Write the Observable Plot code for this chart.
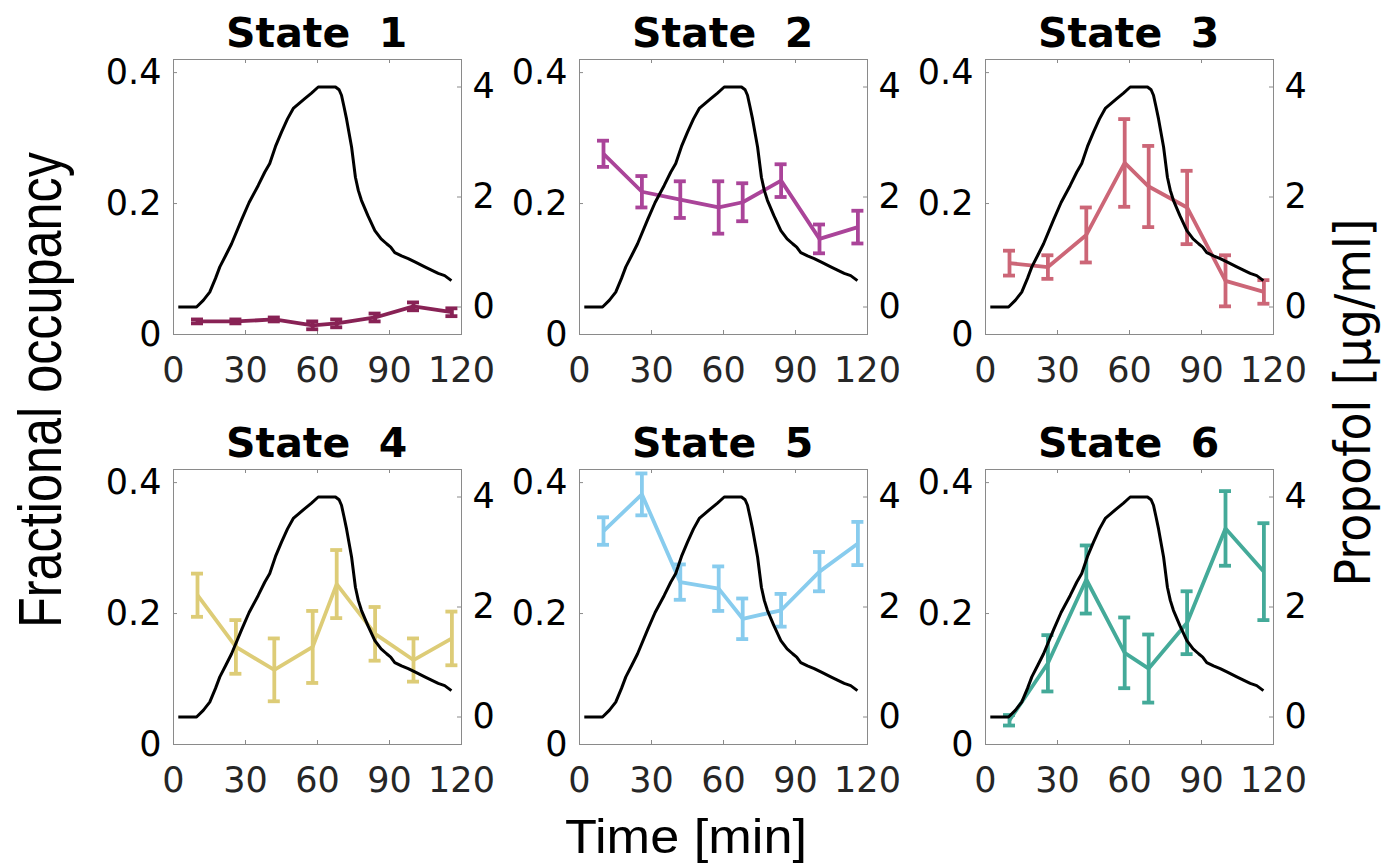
<!DOCTYPE html>
<html>
<head>
<meta charset="utf-8">
<script src="https://cdn.jsdelivr.net/npm/d3@7"></script>
<script src="https://cdn.jsdelivr.net/npm/@observablehq/plot@0.6"></script>
<style>
  body { margin: 0; background: #fff; }
  #fig { position: relative; width: 1393px; height: 863px; overflow: hidden; background: #fff; }
  #fig > svg, #fig > figure { position: absolute; margin: 0; }
</style>
</head>
<body>
<div id="fig"></div>
<script>
// Window centres (minutes) at which state occupancy was averaged
const times = [10, 26, 42, 58, 68, 84, 100, 116];

// Mean fractional occupancy per state and its standard error
const occ1 = [0.020, 0.020, 0.023, 0.014, 0.017, 0.026, 0.043, 0.034];
const err1 = [0.003, 0.003, 0.003, 0.006, 0.006, 0.006, 0.006, 0.006];
const occ2 = [0.276, 0.218, 0.206, 0.194, 0.202, 0.235, 0.146, 0.164];
const err2 = [0.020, 0.024, 0.028, 0.040, 0.029, 0.025, 0.022, 0.025];
const occ3 = [0.109, 0.103, 0.152, 0.262, 0.226, 0.194, 0.082, 0.065];
const err3 = [0.019, 0.018, 0.042, 0.067, 0.062, 0.056, 0.039, 0.018];
const occ4 = [0.228, 0.149, 0.114, 0.149, 0.245, 0.169, 0.129, 0.162];
const err4 = [0.033, 0.041, 0.048, 0.055, 0.052, 0.041, 0.033, 0.041];
const occ5 = [0.326, 0.382, 0.248, 0.238, 0.192, 0.205, 0.264, 0.307];
const err5 = [0.021, 0.032, 0.027, 0.034, 0.031, 0.025, 0.030, 0.033];
const occ6 = [0.037, 0.124, 0.252, 0.140, 0.116, 0.186, 0.330, 0.264];
const err6 = [0.008, 0.043, 0.052, 0.054, 0.052, 0.048, 0.057, 0.074];

// Propofol effect-site concentration [µg/ml] over the session
const propofolTime = [2, 9.6, 12.4, 15.1, 17.5, 19.3, 22, 24.2, 28.3, 31.5, 35.3, 38, 40.1, 42.5, 45, 47.5, 49.9, 52, 54.7, 57.5, 60.3, 67.5, 69, 70, 71, 72.1, 74.2, 75.8, 77, 78.3, 81, 83.9, 86.5, 88.8, 90.5, 92.2, 95, 97.8, 101, 104.7, 107.5, 110.3, 113, 115.8];
const propofolConc = [0, 0, 0.12, 0.27, 0.52, 0.73, 0.96, 1.15, 1.58, 1.9, 2.21, 2.45, 2.61, 2.92, 3.18, 3.42, 3.61, 3.69, 3.79, 3.89, 4.0, 4.0, 3.95, 3.85, 3.65, 3.42, 2.91, 2.36, 2.12, 1.94, 1.66, 1.39, 1.24, 1.15, 1.09, 0.99, 0.93, 0.88, 0.81, 0.73, 0.67, 0.61, 0.57, 0.48];

const stateNames = ["State  1", "State  2", "State  3", "State  4", "State  5", "State  6"];
const stateColors = ["#882255", "#AA4499", "#CC6677", "#DDCC77", "#88CCEE", "#44AA99"];
const occSeries = [occ1, occ2, occ3, occ4, occ5, occ6];
const errSeries = [err1, err2, err3, err4, err5, err6];

const xTicks = [0, 30, 60, 90, 120];
const occTicks = [0, 0.2, 0.4];
const propTicks = [0, 2, 4];

// Layout of the 2 x 3 grid of axes
const frameW = 288, frameH = 275;
const gridLeft = 172.7, gridTop = 59.3, stepX = 406, stepY = 410;
const mL = 90, mR = 70, mT = 12, mB = 70;
const boxColor = "#8a8a8a";
const tickLen = 4;
const tickFont = "DejaVu Sans";
const seriesWidth = 3.8;

const fig = document.getElementById("fig");
const propofol = propofolTime.map((t, i) => ({t, c: propofolConc[i]}));

function place(node, left, top) {
  node.style.left = left + "px";
  node.style.top = top + "px";
  fig.appendChild(node);
}

const common = {
  width: frameW + mL + mR,
  height: frameH + mT + mB,
  marginLeft: mL, marginRight: mR, marginTop: mT, marginBottom: mB,
  style: {background: "transparent", overflow: "visible", fontFamily: tickFont}
};

stateNames.forEach((name, k) => {
  const col = k % 3, row = Math.floor(k / 3);
  const fx = gridLeft + col * stepX, fy = gridTop + row * stepY;
  const color = stateColors[k];
  const rows = times.map((t, i) => ({t, v: occSeries[k][i], e: errSeries[k][i]}));

  // Left axis: fractional occupancy with error bars
  const occPlot = Plot.plot({
    ...common,
    x: {domain: [0, 120]},
    y: {domain: [0, 0.42]},
    marks: [
      Plot.frame({stroke: boxColor, strokeWidth: 1}),
      Plot.tickY(occTicks, {y: d => d, stroke: boxColor, insetRight: frameW - tickLen}),
      Plot.tickX(xTicks, {x: d => d, stroke: boxColor, insetTop: frameH - tickLen}),
      Plot.tickX(xTicks, {x: d => d, stroke: boxColor, insetBottom: frameH - tickLen}),
      Plot.axisX({ticks: xTicks, tickSize: 0, tickPadding: 23, label: null, color: "#262626",
                  fontSize: 35, fontFamily: tickFont, tickFormat: d => String(d)}),
      Plot.axisY({ticks: occTicks, tickSize: 0, tickPadding: 12, label: null, color: "#000",
                  fontSize: 35, fontFamily: tickFont, tickFormat: d => String(d)}),
      Plot.line(rows, {x: "t", y: "v", stroke: color, strokeWidth: seriesWidth, strokeLinejoin: "miter", strokeLinecap: "butt"}),
      Plot.ruleX(rows, {x: "t", y1: d => d.v - d.e, y2: d => d.v + d.e, stroke: color, strokeWidth: seriesWidth}),
      Plot.ruleY(rows, {y: d => d.v - d.e, x1: "t", x2: "t", insetLeft: -6, insetRight: -6, stroke: color, strokeWidth: seriesWidth}),
      Plot.ruleY(rows, {y: d => d.v + d.e, x1: "t", x2: "t", insetLeft: -6, insetRight: -6, stroke: color, strokeWidth: seriesWidth})
    ]
  });
  place(occPlot, fx - mL, fy - mT);

  // Right axis: propofol concentration
  const propPlot = Plot.plot({
    ...common,
    x: {domain: [0, 120], axis: null},
    y: {domain: [-0.5, 4.5]},
    marks: [
      Plot.tickY(propTicks, {y: d => d, stroke: boxColor, insetLeft: frameW - tickLen}),
      Plot.axisY({anchor: "right", ticks: propTicks, tickSize: 0, tickPadding: 11, label: null, color: "#000",
                  fontSize: 35, fontFamily: tickFont, tickFormat: d => String(d)}),
      Plot.line(propofol, {x: "t", y: "c", stroke: "#000", strokeWidth: 3, strokeLinecap: "butt"})
    ]
  });
  place(propPlot, fx - mL, fy - mT);
});

// Panel titles and shared axis labels
const overlay = d3.create("svg")
  .attr("width", 1393).attr("height", 863)
  .style("left", "0px").style("top", "0px").style("pointer-events", "none");

stateNames.forEach((name, k) => {
  const col = k % 3, row = Math.floor(k / 3);
  overlay.append("text")
    .attr("x", gridLeft + col * stepX + frameW / 2)
    .attr("y", gridTop + row * stepY - 12.6)
    .attr("text-anchor", "middle")
    .attr("font-family", "DejaVu Sans").attr("font-weight", "bold").attr("font-size", 41)
    .style("white-space", "pre").attr("xml:space", "preserve")
    .attr("fill", "#000")
    .text(name);
});

overlay.append("text")
  .attr("transform", "translate(61,390) rotate(-90)")
  .attr("text-anchor", "middle")
  .attr("font-family", "Liberation Sans").attr("font-size", 62)
  .attr("textLength", 476).attr("lengthAdjust", "spacingAndGlyphs")
  .attr("fill", "#000")
  .text("Fractional occupancy");

overlay.append("text")
  .attr("transform", "translate(1370,402.5) rotate(-90)")
  .attr("text-anchor", "middle")
  .attr("font-family", "DejaVu Sans").attr("font-size", 50)
  .attr("textLength", 368).attr("lengthAdjust", "spacingAndGlyphs")
  .attr("fill", "#000")
  .text("Propofol [μg/ml]");

overlay.append("text")
  .attr("x", 686).attr("y", 853.3)
  .attr("text-anchor", "middle")
  .attr("font-family", "Liberation Sans").attr("font-size", 49)
  .attr("textLength", 242).attr("lengthAdjust", "spacingAndGlyphs")
  .attr("fill", "#000")
  .text("Time [min]");

fig.appendChild(overlay.node());
overlay.node().style.position = "absolute";
</script>
</body>
</html>
